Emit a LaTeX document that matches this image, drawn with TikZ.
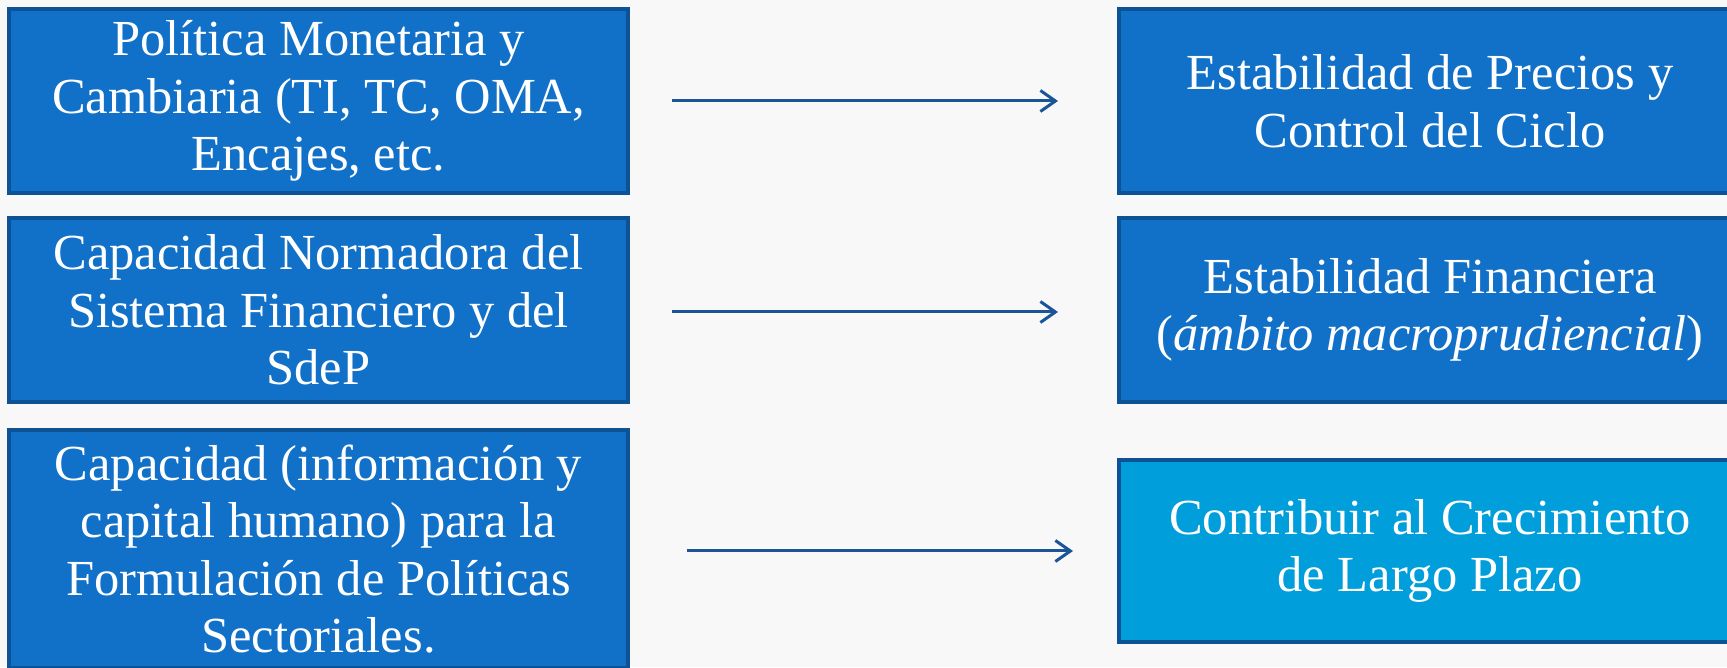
\documentclass[tikz,border=0pt]{standalone}
\usepackage{fontspec}
\setmainfont{Liberation Serif}
\usetikzlibrary{arrows.meta,positioning,calc}

\definecolor{cajaazul}{RGB}{17,112,199}
\definecolor{cajaceleste}{RGB}{0,159,219}
\definecolor{borde}{RGB}{13,82,148}
\definecolor{flecha}{RGB}{27,85,151}
\definecolor{fondo}{RGB}{248,248,249}

\tikzset{
  caja/.style={draw=borde,line width=4pt,fill=cajaazul,text=white,align=center,
    minimum width=619pt,minimum height=184pt,inner sep=0pt,
    font=\fontsize{50.5}{57.5}\selectfont},
  flechita/.style={draw=flecha,line width=3pt,-{Straight Barb[length=15pt,width=21pt]}}
}

\begin{document}
\begin{tikzpicture}[x=1pt,y=1pt]
  \useasboundingbox (0,0) rectangle (1727,667); % tamaño de la lámina
  \fill[fondo] (0,0) rectangle (1727,667); % fondo
  \clip (0,0) rectangle (1727,667);
  \node[caja] (pmc) at (318.5,566) {Política Monetaria y\\Cambiaria (TI, TC, OMA,\\Encajes, etc.}; % instrumento 1
  \node[caja] (cnsf) at (318.5,357) {Capacidad Normadora del\\Sistema Financiero y del\\SdeP}; % instrumento 2
  \node[caja,minimum height=238pt] (cfps) at (318.5,118) {Capacidad (información y\\capital humano) para la\\Formulación de Políticas\\Sectoriales.}; % instrumento 3
  \node[caja,minimum width=622pt] (epcc) at (1430,566) {Estabilidad de Precios y\\Control del Ciclo}; % objetivo 1
  \node[caja,minimum width=622pt] (efin) at (1430,357) {Estabilidad Financiera\\(\textit{ámbito macroprudiencial})}; % objetivo 2
  \node[caja,minimum width=622pt,minimum height=182pt,fill=cajaceleste] (clp) at (1430,116) {Contribuir al Crecimiento\\de Largo Plazo}; % objetivo 3
  \draw[flechita,shorten <=42pt,shorten >=59pt] (pmc.east) -- (pmc.east -| epcc.west); % flecha 1
  \draw[flechita,shorten <=42pt,shorten >=59pt] ($(cnsf.east)+(0,-2)$) -- ($(cnsf.east -| efin.west)+(0,-2)$); % flecha 2
  \draw[flechita,shorten <=57pt,shorten >=44pt] (cfps.east |- clp.west) -- (clp.west); % flecha 3
\end{tikzpicture}
\end{document}
